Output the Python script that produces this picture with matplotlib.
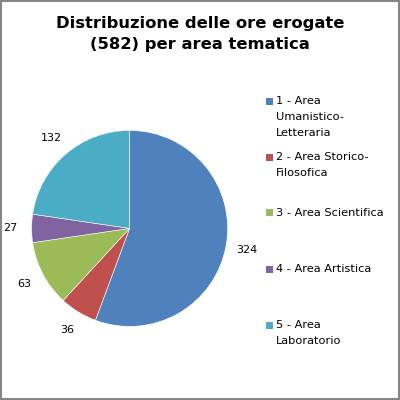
import matplotlib
matplotlib.use("Agg")
from matplotlib import pyplot as plt
from matplotlib.patches import Rectangle

# Data
values = [324, 36, 63, 27, 132]
legend_labels = ['1 - Area\nUmanistico-\nLetteraria',
                 '2 - Area Storico-\nFilosofica',
                 '3 - Area Scientifica',
                 '4 - Area Artistica',
                 '5 - Area\nLaboratorio']
colors = ['#4F81BD', '#C0504D', '#9BBB59', '#8064A2', '#4BACC6']
title = 'Distribuzione delle ore erogate\n(582) per area tematica'

fig = plt.figure(figsize=(4, 4), dpi=100)
fig.patch.set_edgecolor('#868686')
fig.patch.set_linewidth(1.5)

ax = fig.add_axes([0.079, 0.184, 0.49, 0.49])
wedges, texts = ax.pie(values, labels=[str(v) for v in values], colors=colors,
                       startangle=90, counterclock=False, radius=1,
                       labeldistance=1.22,
                       wedgeprops=dict(edgecolor='white', linewidth=0.4),
                       textprops=dict(fontsize=8, color='black'))
for t in texts:
    t.set_ha('center')
    t.set_va('center')
ax.set_xlim(-1, 1)
ax.set_ylim(-1, 1)
ax.set_aspect('equal')

# Title
fig.text(0.5, 0.915, title, ha='center', va='center', fontsize=11.8,
         fontweight='bold', linespacing=1.55)

# Legend drawn by hand so the square sits by the first line
top = 1 - 101 / 400
step = 56 / 400
for i, (lab, col) in enumerate(zip(legend_labels, colors)):
    y = top - i * step
    fig.patches.append(Rectangle((266 / 400, y - 3.5 / 400), 7 / 400, 7 / 400,
                                 transform=fig.transFigure, facecolor=col,
                                 edgecolor='none'))
    fig.text(276 / 400, y + 5 / 400, lab, ha='left', va='top', fontsize=8.2,
             linespacing=1.78)

fig.savefig('out.png', dpi=100)
